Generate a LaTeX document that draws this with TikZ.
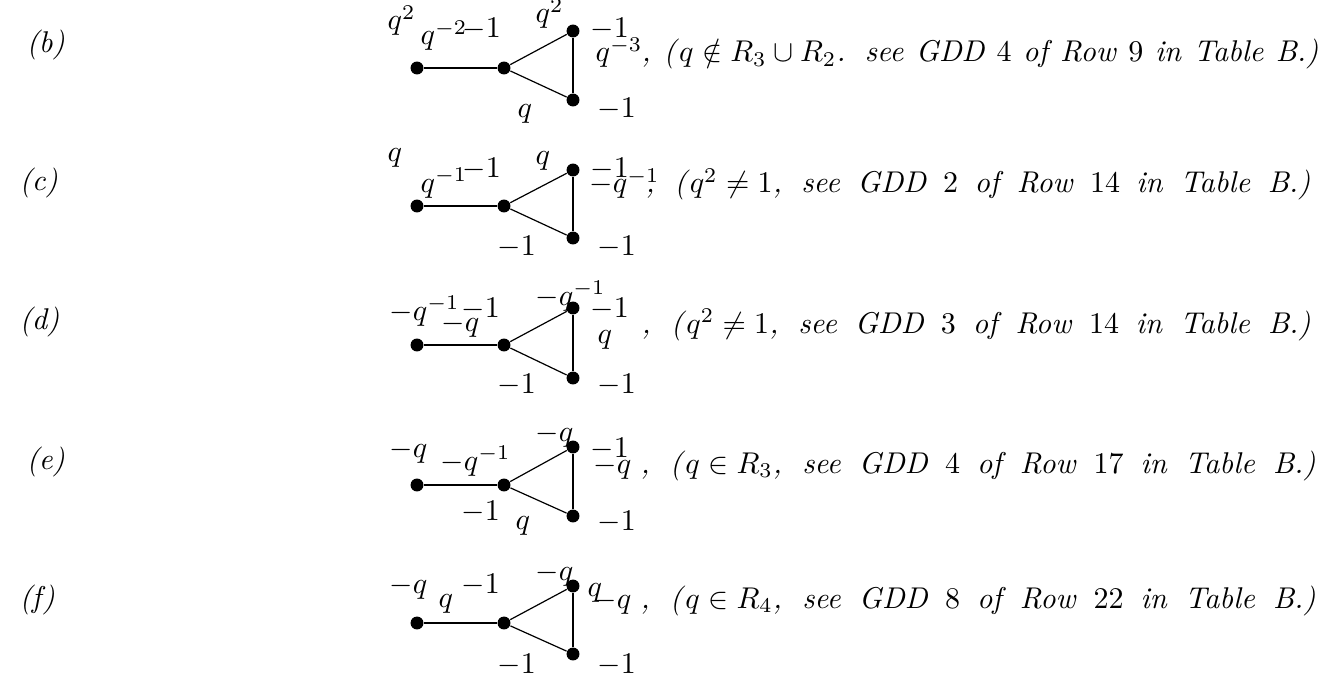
\documentclass[tikz,border=0pt]{standalone}
\newcommand{\rowtext}[2]{\makebox[#1][s]{\thickmuskip=5mu\relax\medmuskip=4mu\relax #2}}
\begin{document}
\begin{tikzpicture}[x=0.333pt,y=-0.333pt,
  dot/.style={circle,fill=black,inner sep=0pt,minimum size=4.3pt},
  lab/.style={anchor=base west,inner sep=0pt},
  thickedge/.style={line width=0.7pt},
  thinedge/.style={line width=0.4pt}]
\useasboundingbox (0,0) rectangle (1338,681);
% ---------- (b)
\node[lab] (rb) at (26,53) {\textit{(b)}};
\node[dot] (Lb) at (417,68) {};
\node[dot] (Mb) at (504,68) {};
\node[dot] (Tb) at (573,31) {};
\node[dot] (Bb) at (573,100) {};
\draw[thickedge] (Lb) -- (Mb);
\draw[thinedge] (Mb) -- (Tb);
\draw[thinedge] (Mb) -- (Bb);
\draw[thickedge] (Tb) -- (Bb);
\node[lab] (b1) at (387,30) {$q^2$};
\node[lab] (b2) at (420,45) {$q^{-2}$};
\node[lab] (b3) at (462,38) {$-1$};
\node[lab] (b4) at (535,23) {$q^2$};
\node[lab] (b5) at (590,38) {$-1$};
\node[lab] (b6) at (595,62) {$q^{-3}$};
\node[lab] (b7) at (517,118) {$q$};
\node[lab] (b8) at (597,118) {$-1$};
\node[lab] (bt) at (641,62) {\rowtext{225.4pt}{\textit{, (}$q\notin R_3\cup R_2$\textit{. see GDD} $4$ \textit{of Row} $9$ \textit{in Table B.)}}};
% ---------- (c)
\node[lab] (rc) at (19,191) {\textit{(c)}};
\node[dot] (Lc) at (417,206) {};
\node[dot] (Mc) at (504,206) {};
\node[dot] (Tc) at (573,170) {};
\node[dot] (Bc) at (573,238) {};
\draw[thickedge] (Lc) -- (Mc);
\draw[thinedge] (Mc) -- (Tc);
\draw[thinedge] (Mc) -- (Bc);
\draw[thickedge] (Tc) -- (Bc);
\node[lab] (c1) at (387,162) {$q$};
\node[lab] (c2) at (420,192) {$q^{-1}$};
\node[lab] (c3) at (462,178) {$-1$};
\node[lab] (c4) at (535,165) {$q$};
\node[lab] (c5) at (590,178) {$-1$};
\node[lab] (c6) at (589,193) {$-q^{-1}$};
\node[lab] (c7) at (497,255) {$-1$};
\node[lab] (c8) at (597,255) {$-1$};
\node[lab] (ct) at (645,193) {\rowtext{221.4pt}{\textit{, (}$q^2\neq 1$\textit{, see GDD} $2$ \textit{of Row} $14$ \textit{in Table B.)}}};
% ---------- (d)
\node[lab] (rd) at (19,329) {\textit{(d)}};
\node[dot] (Ld) at (417,345) {};
\node[dot] (Md) at (504,345) {};
\node[dot] (Td) at (573,308) {};
\node[dot] (Bd) at (573,378) {};
\draw[thickedge] (Ld) -- (Md);
\draw[thinedge] (Md) -- (Td);
\draw[thinedge] (Md) -- (Bd);
\draw[thickedge] (Td) -- (Bd);
\node[lab] (d1) at (389,320) {$-q^{-1}$};
\node[lab] (d2) at (441,331) {$-q$};
\node[lab] (d3) at (461,317) {$-1$};
\node[lab] (d4) at (535,305) {$-q^{-1}$};
\node[lab] (d5) at (590,317) {$-1$};
\node[lab] (d6) at (597,343) {$q$};
\node[lab] (d7) at (497,393) {$-1$};
\node[lab] (d8) at (597,393) {$-1$};
\node[lab] (dt) at (641,333) {\rowtext{222.8pt}{\textit{, (}$q^2\neq 1$\textit{, see GDD} $3$ \textit{of Row} $14$ \textit{in Table B.)}}};
% ---------- (e)
\node[lab] (re) at (26,469) {\textit{(e)}};
\node[dot] (Le) at (417,485) {};
\node[dot] (Me) at (504,485) {};
\node[dot] (Te) at (573,447) {};
\node[dot] (Be) at (573,516) {};
\draw[thickedge] (Le) -- (Me);
\draw[thinedge] (Me) -- (Te);
\draw[thinedge] (Me) -- (Be);
\draw[thickedge] (Te) -- (Be);
\node[lab] (e1) at (389,457) {$-q$};
\node[lab] (e2) at (440,470) {$-q^{-1}$};
\node[lab] (e3) at (461,520) {$-1$};
\node[lab] (e4) at (535,441) {$-q$};
\node[lab] (e5) at (590,457) {$-1$};
\node[lab] (e6) at (593,473) {$-q$};
\node[lab] (e7) at (515,529) {$q$};
\node[lab] (e8) at (597,530) {$-1$};
\node[lab] (et) at (640,473) {\rowtext{224.8pt}{\textit{, (}$q\in R_3$\textit{, see GDD} $4$ \textit{of Row} $17$ \textit{in Table B.)}}};
% ---------- (f)
\node[lab] (rf) at (19,607) {\textit{(f)}};
\node[dot] (Lf) at (417,623) {};
\node[dot] (Mf) at (504,623) {};
\node[dot] (Tf) at (573,586) {};
\node[dot] (Bf) at (573,654) {};
\draw[thickedge] (Lf) -- (Mf);
\draw[thinedge] (Mf) -- (Tf);
\draw[thinedge] (Mf) -- (Bf);
\draw[thickedge] (Tf) -- (Bf);
\node[lab] (f1) at (389,593) {$-q$};
\node[lab] (f2) at (438,607) {$q$};
\node[lab] (f3) at (461,593) {$-1$};
\node[lab] (f4) at (535,580) {$-q$};
\node[lab] (f5) at (587,596) {$q$};
\node[lab] (f6) at (593,608) {$-q$};
\node[lab] (f7) at (497,673) {$-1$};
\node[lab] (f8) at (597,673) {$-1$};
\node[lab] (ft) at (640,608) {\rowtext{224.8pt}{\textit{, (}$q\in R_4$\textit{, see GDD} $8$ \textit{of Row} $22$ \textit{in Table B.)}}};
\end{tikzpicture}
\end{document}
